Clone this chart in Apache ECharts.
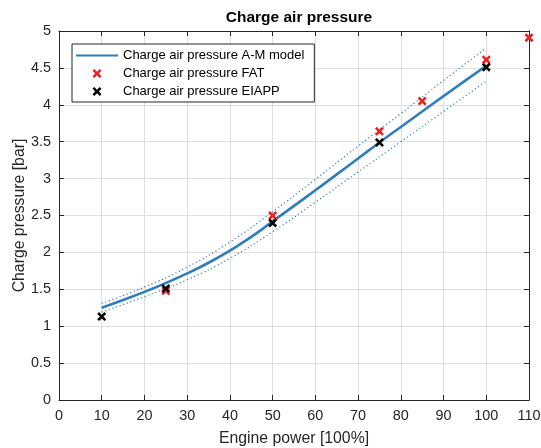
<!DOCTYPE html>
<html><head><meta charset="utf-8">
<script src="https://cdn.jsdelivr.net/npm/echarts@6/dist/echarts.min.js"></script>
<style>html,body{margin:0;padding:0;background:#fff}#c{width:541px;height:448px}</style>
</head><body><div id="c"></div>
<script>
const modelX = [10,15,20,25,30,35,40,45,50,55,60,65,70,75,80,85,90,95,100];
const modelY = [1.25,1.355,1.465,1.585,1.715,1.86,2.025,2.21,2.42,2.63,2.842,3.057,3.272,3.49,3.70,3.91,4.118,4.324,4.53];
const bandX = [10,20,30,40,50,60,70,80,90,100];
const upperY = [1.31,1.53,1.80,2.14,2.55,2.99,3.44,3.88,4.33,4.77];
const lowerY = [1.19,1.40,1.63,1.92,2.28,2.68,3.09,3.50,3.91,4.32];
const fatX = [25,50,75,85,100,110];
const fatY = [1.48,2.50,3.64,4.05,4.61,4.91];
const eiappX = [10,25,50,75,100];
const eiappY = [1.13,1.51,2.40,3.49,4.51];
const names = ['Charge air pressure A-M model','Charge air pressure FAT','Charge air pressure EIAPP'];

const pairs = (xs, ys) => xs.map((x, i) => [x, ys[i]]);
const FONT = '"Liberation Sans", Arial, Helvetica, sans-serif';
const AX = '#262626';
const BLUE = '#2f7dbf';
const XMARK = 'path://M0,1.8L1.8,0L4.5,2.7L7.2,0L9,1.8L6.3,4.5L9,7.2L7.2,9L4.5,6.3L1.8,9L0,7.2L2.7,4.5Z';
const LINEICON = 'path://M0,0L42,0L42,2.2L0,2.2Z';

const chart = echarts.init(document.getElementById('c'), null, {renderer: 'canvas'});
const baseX = {
  type: 'value', min: 0, max: 110, interval: 10,
  axisLine: {show: true, onZero: false, lineStyle: {color: AX, width: 1}},
  axisTick: {show: true, inside: true, length: 5, lineStyle: {color: AX}},
  splitLine: {show: false}
};
const baseY = {
  type: 'value', min: 0, max: 5, interval: 0.5,
  axisLine: {show: true, onZero: false, lineStyle: {color: AX, width: 1}},
  axisTick: {show: true, inside: true, length: 5, lineStyle: {color: AX}},
  splitLine: {show: false}
};
chart.setOption({
  animation: false,
  backgroundColor: '#fff',
  textStyle: {fontFamily: FONT},
  title: {
    text: 'Charge air pressure', left: 294, top: 5, textAlign: 'center',
    textStyle: {fontFamily: FONT, fontSize: 15.5, fontWeight: 'bold', color: '#000'}
  },
  grid: {left: 59, right: 12, top: 31, bottom: 48, containLabel: false, outerBoundsMode: 'none'},
  legend: {
    data: [{name: names[0], icon: LINEICON}, {name: names[1]}, {name: names[2]}],
    orient: 'vertical', left: 72, top: 44,
    itemWidth: 42, itemHeight: 9, itemGap: 3, symbolKeepAspect: true,
    padding: [4, 10, 3, 4], borderColor: AX, borderWidth: 1, backgroundColor: '#fff',
    textStyle: {fontFamily: FONT, fontSize: 13, color: '#000', lineHeight: 15},
    selectedMode: false
  },
  xAxis: [
    Object.assign({}, baseX, {
      position: 'bottom',
      splitLine: {show: true, lineStyle: {color: '#dfdfdf', width: 1}},
      axisLabel: {color: AX, fontSize: 14.4, fontFamily: FONT, margin: 9},
      name: 'Engine power [100%]', nameLocation: 'middle', nameGap: 31, nameMoveOverlap: false,
      nameTextStyle: {color: AX, fontSize: 15.8, fontFamily: FONT}
    }),
    Object.assign({}, baseX, {position: 'top', axisLabel: {show: false}})
  ],
  yAxis: [
    Object.assign({}, baseY, {
      position: 'left',
      splitLine: {show: true, lineStyle: {color: '#dfdfdf', width: 1}},
      axisLabel: {color: AX, fontSize: 14.4, fontFamily: FONT, margin: 8},
      name: 'Charge pressure [bar]', nameLocation: 'middle', nameGap: 31, nameRotate: 90,
      nameMoveOverlap: false,
      nameTextStyle: {color: AX, fontSize: 15.8, fontFamily: FONT}
    }),
    Object.assign({}, baseY, {position: 'right', axisLabel: {show: false}})
  ],
  series: [
    {name: 'upper', type: 'line', smooth: true, symbol: 'none', z: 2,
     data: pairs(bandX, upperY), lineStyle: {color: BLUE, width: 1.2, type: [1.2, 2.6]}},
    {name: 'lower', type: 'line', smooth: true, symbol: 'none', z: 2,
     data: pairs(bandX, lowerY), lineStyle: {color: BLUE, width: 1.2, type: [1.2, 2.6]}},
    {name: names[0], type: 'line', smooth: true, symbol: 'none', showSymbol: false, z: 3,
     data: pairs(modelX, modelY), itemStyle: {color: BLUE}, lineStyle: {color: BLUE, width: 2.6}},
    {name: names[1], type: 'scatter', symbol: XMARK, symbolSize: 9, z: 4, clip: false,
     data: pairs(fatX, fatY), itemStyle: {color: '#e82222', opacity: 1}},
    {name: names[2], type: 'scatter', symbol: XMARK, symbolSize: 9, z: 5, clip: false,
     data: pairs(eiappX, eiappY), itemStyle: {color: '#000', opacity: 1}}
  ]
});
</script>
</body></html>
